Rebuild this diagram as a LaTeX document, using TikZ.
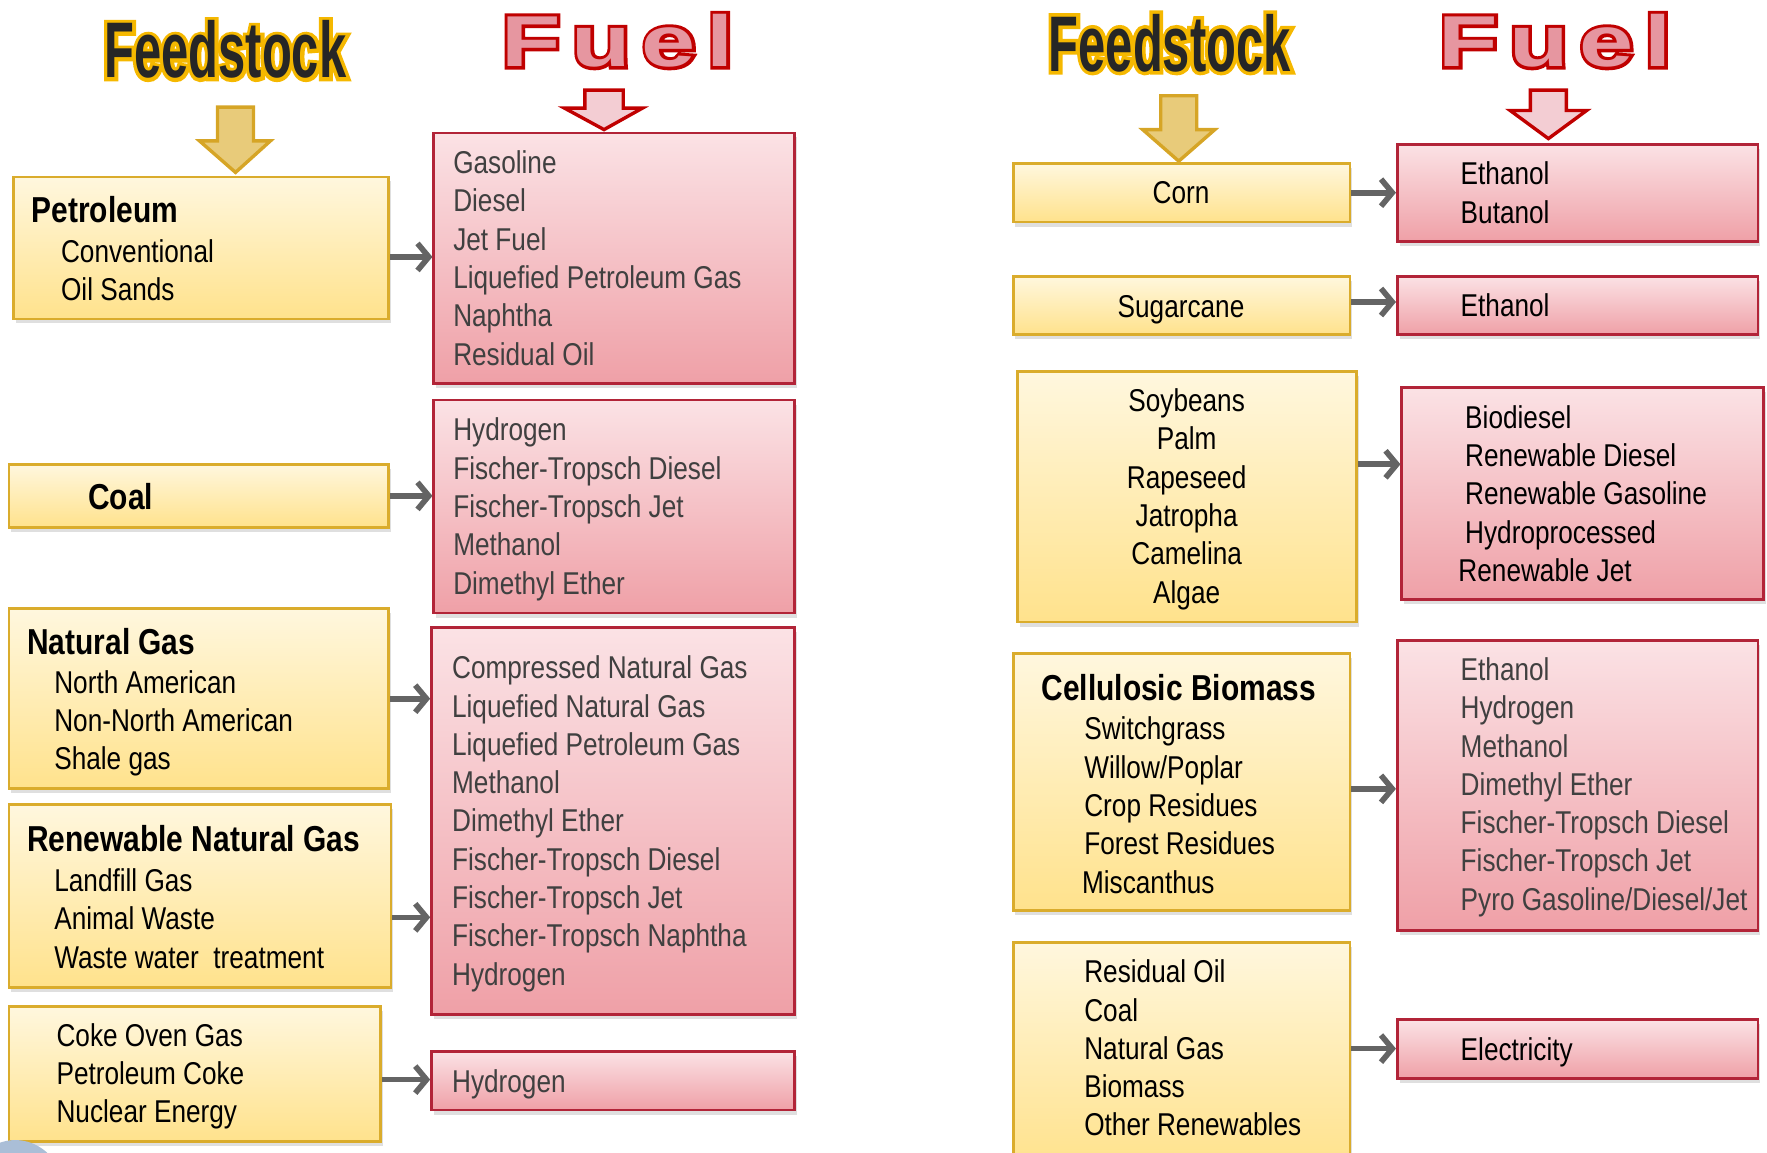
\documentclass[tikz,border=0pt]{standalone}
\usepackage{fontspec}
\setmainfont{Liberation Sans}[FakeStretch=0.83]
\newfontfamily\feedfill{Liberation Sans Bold}[FakeStretch=0.62]
\newfontfamily\feedoutline{Liberation Sans Bold}[FakeStretch=0.62, FakeBold=9]
\newfontfamily\fuelfill{Liberation Sans Bold}[FakeStretch=1.35, LetterSpace=15]
\newfontfamily\fueloutline{Liberation Sans Bold}[FakeStretch=1.35, LetterSpace=15, FakeBold=9]
\usetikzlibrary{arrows.meta, shadows}
\definecolor{feedtop}{RGB}{255, 247, 222}
\definecolor{feedbot}{RGB}{255, 226, 140}
\definecolor{feedline}{RGB}{218, 172, 44}
\definecolor{fueltop}{RGB}{251, 226, 229}
\definecolor{fuelbot}{RGB}{239, 160, 167}
\definecolor{fuelline}{RGB}{178, 36, 56}
\definecolor{fueltext}{RGB}{64, 64, 64}
\definecolor{linkgray}{RGB}{100, 100, 100}
\definecolor{goldfill}{RGB}{232, 203, 122}
\definecolor{goldline}{RGB}{214, 165, 38}
\definecolor{redfill}{RGB}{243, 205, 211}
\definecolor{redline}{RGB}{192, 0, 0}
\definecolor{titlegold}{RGB}{245, 184, 0}
\definecolor{titlepink}{RGB}{230, 150, 160}
\definecolor{swoosh}{RGB}{170, 190, 215}

\tikzset{
  feedbox/.style={draw=feedline, line width=2.5pt, top color=feedtop, bottom color=feedbot,
    drop shadow={shadow xshift=2pt, shadow yshift=-4pt, opacity=0.25}, inner sep=0pt},
  fuelbox/.style={draw=fuelline, line width=2.5pt, top color=fueltop, bottom color=fuelbot,
    drop shadow={shadow xshift=2pt, shadow yshift=-4pt, opacity=0.25}, inner sep=0pt},
  item/.style={anchor=west, inner sep=0pt, align=left, font=\fontsize{28}{34}\selectfont},
  head/.style={anchor=west, inner sep=0pt, font=\bfseries\fontsize{32}{34}\selectfont},
  link/.style={draw=linkgray, line width=5pt, -{Straight Barb[length=10pt, width=24pt]}},
  goldarrow/.style={fill=goldfill, draw=goldline, line width=3pt, line join=miter},
  redarrow/.style={fill=redfill, draw=redline, line width=3pt, line join=miter},
  feedtitle/.style={inner sep=0pt, font=\fontsize{70}{70}\selectfont},
  fueltitle/.style={inner sep=0pt, font=\fontsize{64}{64}\selectfont},
}
% outlined title words: a thickened copy under the plain one
\newcommand{\feedword}{\rlap{\feedoutline\color{titlegold}Feedstock}{\feedfill\color{black!85}Feedstock}}
\newcommand{\fuelword}{\rlap{\fueloutline\color{redline}Fuel}{\fuelfill\color{titlepink}Fuel}}

\begin{document}
\begin{tikzpicture}[x=1pt, y=-1pt]
        \useasboundingbox (0,0) rectangle (1568,1023);

        % Titles
        \node[feedtitle] (feedL) at (200,44) {\feedword};
        \node[feedtitle] (feedR) at (1038,38) {\feedword};
        \node[fueltitle] (fuelL) at (548,36) {\fuelword};
        \node[fueltitle] (fuelR) at (1380,36) {\fuelword};

        % Block arrows under the titles
        \filldraw[goldarrow] (193,95) -- (225,95) -- (225,125) -- (240,125) -- (209,153)
            -- (177,125) -- (193,125) -- cycle;
        \filldraw[goldarrow] (1030,85) -- (1062,85) -- (1062,115) -- (1078,115) -- (1046,143)
            -- (1014,115) -- (1030,115) -- cycle;
        \filldraw[redarrow] (519,80) -- (553,80) -- (553,96) -- (570,96) -- (536,115)
            -- (501,96) -- (519,96) -- cycle;
        \filldraw[redarrow] (1358,80) -- (1390,80) -- (1390,98) -- (1408,98) -- (1374,123)
            -- (1340,98) -- (1358,98) -- cycle;

        % Left column: feedstock boxes
        \node[feedbox, minimum width=333pt, minimum height=126pt] (petro) at (178.5,220) {};
        \node[feedbox, minimum width=337pt, minimum height=56pt] (coal) at (176.5,440) {};
        \node[feedbox, minimum width=337pt, minimum height=160pt] (ngas) at (176.5,620) {};
        \node[feedbox, minimum width=339pt, minimum height=162pt] (rng) at (177.5,795) {};
        \node[feedbox, minimum width=330pt, minimum height=120pt] (coke) at (173,953) {};

        % Left column: fuel boxes
        \node[fuelbox, minimum width=320pt, minimum height=222pt] (fuelA) at (545,229) {};
        \node[fuelbox, minimum width=320pt, minimum height=189pt] (fuelB) at (545,449.5) {};
        \node[fuelbox, minimum width=322pt, minimum height=343pt] (fuelC) at (544,728.5) {};
        \node[fuelbox, minimum width=322pt, minimum height=52pt] (fuelD) at (544,959) {};

        % Right column: feedstock boxes
        \node[feedbox, minimum width=299pt, minimum height=52pt] (corn) at (1048.5,171) {};
        \node[feedbox, minimum width=299pt, minimum height=52pt] (sugar) at (1048.5,271) {};
        \node[feedbox, minimum width=301pt, minimum height=222pt] (soy) at (1053.5,441) {};
        \node[feedbox, minimum width=299pt, minimum height=228pt] (cell) at (1048.5,694) {};
        \node[feedbox, minimum width=299pt, minimum height=199pt] (resid) at (1048.5,935.5) {};

        % Right column: fuel boxes
        \node[fuelbox, minimum width=320pt, minimum height=86pt] (ethA) at (1400,171) {};
        \node[fuelbox, minimum width=320pt, minimum height=52pt] (ethB) at (1400,271) {};
        \node[fuelbox, minimum width=321pt, minimum height=188pt] (bio) at (1404.5,438) {};
        \node[fuelbox, minimum width=320pt, minimum height=258pt] (cellF) at (1400,697) {};
        \node[fuelbox, minimum width=320pt, minimum height=52pt] (elec) at (1400,931) {};

        % Logo corner
        \fill[swoosh] (0,1023) -- (0,1014) .. controls (14,1009) and (30,1012) .. (42,1023) -- cycle;

        % Feedstock texts, left
        \node[head] (petroH) at (28,186) {Petroleum};
        \node[item] (petroT) at (54,240) {Conventional\\Oil Sands};
        \node[head, anchor=center] (coalH) at (107,441) {Coal};
        \node[head] (ngasH) at (24,569) {Natural Gas};
        \node[item] (ngasT) at (48,642) {North American\\Non-North American\\Shale gas};
        \node[head] (rngH) at (24,744) {Renewable Natural Gas};
        \node[item] (rngT) at (48,815) {Landfill Gas\\Animal Waste\\Waste water\ \ treatment};
        \node[item] (cokeT) at (50,955) {Coke Oven Gas\\Petroleum Coke\\Nuclear Energy};

        % Fuel texts, left
        \node[item, text=fueltext] (fuelAT) at (402,229)
            {Gasoline\\Diesel\\Jet Fuel\\Liquefied Petroleum Gas\\Naphtha\\Residual Oil};
        \node[item, text=fueltext] (fuelBT) at (402,452)
            {Hydrogen\\Fischer-Tropsch Diesel\\Fischer-Tropsch Jet\\Methanol\\Dimethyl Ether};
        \node[item, text=fueltext] (fuelCT) at (401,731)
            {Compressed Natural Gas\\Liquefied Natural Gas\\Liquefied Petroleum Gas\\Methanol\\Dimethyl Ether\\
             Fischer-Tropsch Diesel\\Fischer-Tropsch Jet\\Fischer-Tropsch Naphtha\\Hydrogen};
        \node[item, text=fueltext] (fuelDT) at (401,962) {Hydrogen};

        % Feedstock texts, right
        \node[item, anchor=center] (cornT) at (1048,171) {Corn};
        \node[item, anchor=center] (sugarT) at (1048,275) {Sugarcane};
        \node[item, anchor=center, align=center] (soyT) at (1053,443)
            {Soybeans\\Palm\\Rapeseed\\Jatropha\\Camelina\\Algae};
        \node[head] (cellH) at (924,610) {Cellulosic Biomass};
        \node[item] (cellT) at (962,714.5)
            {Switchgrass\\Willow/Poplar\\Crop Residues\\Forest Residues\\\hspace*{-2pt}Miscanthus};
        \node[item] (residT) at (962,930)
            {Residual Oil\\Coal\\Natural Gas\\Biomass\\Other Renewables};

        % Fuel texts, right
        \node[item] (ethAT) at (1296,171) {Ethanol\\Butanol};
        \node[item] (ethBT) at (1296,271) {Ethanol};
        \node[item] (bioT) at (1300,438)
            {Biodiesel\\Renewable Diesel\\Renewable Gasoline\\Hydroprocessed\\\hspace*{-6pt}Renewable Jet};
        \node[item, text=fueltext] (cellFT) at (1296,698.5)
            {Ethanol\\Hydrogen\\Methanol\\Dimethyl Ether\\Fischer-Tropsch Diesel\\Fischer-Tropsch Jet\\Pyro Gasoline/Diesel/Jet};
        \node[item] (elecT) at (1296,934) {Electricity};

        % Links feedstock -> fuel
        \draw[link] ([yshift=-8pt]petro.east) -- ([yshift=-8pt]petro.east -| fuelA.west);
        \draw[link] (coal.east) -- (coal.east -| fuelB.west);
        \draw[link] (ngas.east) -- (ngas.east -| fuelC.west);
        \draw[link] ([yshift=-19pt]rng.east) -- ([yshift=-19pt]rng.east -| fuelC.west);
        \draw[link] ([yshift=-5pt]coke.east) -- ([yshift=-5pt]coke.east -| fuelD.west);
        \draw[link] (corn.east) -- (corn.east -| ethA.west);
        \draw[link] ([yshift=3pt]sugar.east) -- ([yshift=3pt]sugar.east -| ethB.west);
        \draw[link] ([yshift=29pt]soy.east) -- ([yshift=29pt]soy.east -| bio.west);
        \draw[link] ([yshift=-6pt]cell.east) -- ([yshift=-6pt]cell.east -| cellF.west);
        \draw[link] ([yshift=5pt]resid.east) -- ([yshift=5pt]resid.east -| elec.west);
    \end{tikzpicture}
\end{document}
